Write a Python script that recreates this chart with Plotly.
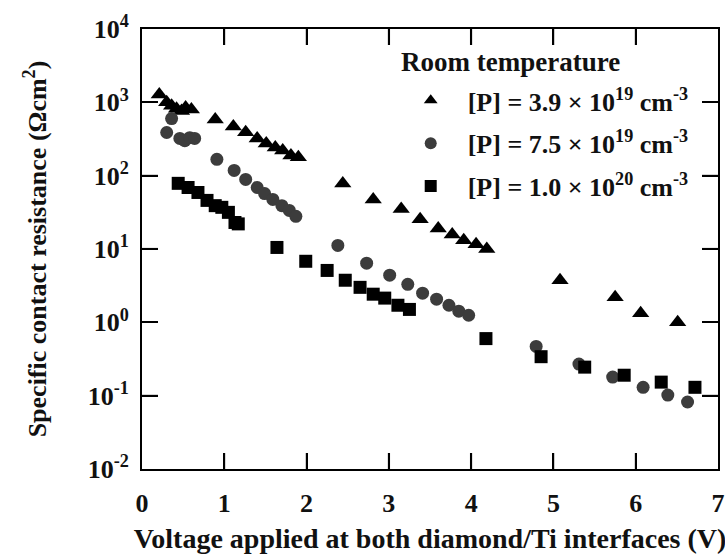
import plotly.graph_objects as go

# Specific contact resistance vs. voltage at the diamond/Ti interfaces (room temperature)
v_39e19 = [0.21, 0.30, 0.36, 0.42, 0.48, 0.53, 0.60, 0.89, 1.11, 1.26, 1.40, 1.51, 1.62, 1.71,
           1.81, 1.90, 2.44, 2.81, 3.15, 3.38, 3.60, 3.77, 3.91, 4.06, 4.19, 5.08, 5.75, 6.06, 6.51]
r_39e19 = [1280, 1000, 900, 820, 760, 850, 800, 585, 470, 390, 322, 275, 243, 221,
           189, 178, 78.5, 47.5, 35, 25.4, 19, 15.8, 13.2, 11.6, 10, 3.75, 2.2, 1.33, 1.0]

v_75e19 = [0.30, 0.36, 0.46, 0.52, 0.58, 0.64, 0.91, 1.12, 1.26, 1.40, 1.49, 1.59, 1.70, 1.79,
           1.87, 2.38, 2.73, 3.01, 3.23, 3.41, 3.58, 3.73, 3.85, 3.97, 4.79, 5.31, 5.72, 6.09,
           6.39, 6.63]
r_75e19 = [388, 600, 322, 300, 330, 322, 167, 118, 89, 69, 57, 47.5, 39, 33.6,
           27.9, 11.2, 6.4, 4.4, 3.3, 2.5, 2.07, 1.71, 1.42, 1.25, 0.47, 0.27, 0.179, 0.13,
           0.102, 0.082]

v_10e20 = [0.44, 0.56, 0.68, 0.79, 0.89, 0.97, 1.05, 1.13, 1.17, 1.64, 1.99, 2.25, 2.47, 2.65,
           2.81, 2.95, 3.11, 3.25, 4.18, 4.85, 5.38, 5.86, 6.31, 6.72]
r_10e20 = [78.6, 69, 59, 46, 39, 37, 31.6, 23, 22, 10.5, 6.8, 5.1, 3.75, 3.0,
           2.42, 2.14, 1.71, 1.5, 0.6, 0.34, 0.245, 0.19, 0.153, 0.13]

x_ticks = [0, 1, 2, 3, 4, 5, 6, 7]
y_exponents = [-2, -1, 0, 1, 2, 3, 4]

FONT = "Liberation Serif"
INK = "#111111"

WIDTH, HEIGHT = 725, 554
MARGIN = dict(l=142, r=7, t=29, b=85)
X_RANGE = [0, 7]
Y_RANGE = [-2, 4]          # log10 decades
TICK_PX = 16
TICK_HALF_W = 1.25

plot_w = WIDTH - MARGIN["l"] - MARGIN["r"]
plot_h = HEIGHT - MARGIN["t"] - MARGIN["b"]

fig = go.Figure()

series = [
    ("[P] = 3.9 × 10<sup>19</sup> cm<sup>-3</sup>", v_39e19, r_39e19, "triangle-up", 15, "#000000"),
    ("[P] = 7.5 × 10<sup>19</sup> cm<sup>-3</sup>", v_75e19, r_75e19, "circle", 13, "#3c3c3c"),
    ("[P] = 1.0 × 10<sup>20</sup> cm<sup>-3</sup>", v_10e20, r_10e20, "square", 13, "#000000"),
]
for i, (name, xs, ys, sym, size, color) in enumerate(series):
    fig.add_trace(go.Scatter(
        x=xs, y=ys, mode="markers", name=name, legendgroup=f"g{i}",
        marker=dict(symbol=sym, size=size, color=color, line=dict(width=0)),
    ))

# Inward tick marks on all four sides of the frame, as small filled bars at the tick values
tick_style = dict(type="rect", fillcolor="black", line=dict(width=0), layer="above")
for xv in x_ticks[1:-1]:
    for anchor, (p0, p1) in ((0, (0, TICK_PX)), (1, (-TICK_PX, 0))):
        fig.add_shape(xref="x", xsizemode="pixel", xanchor=xv,
                      x0=-TICK_HALF_W, x1=TICK_HALF_W,
                      yref="paper", ysizemode="pixel", yanchor=anchor, y0=p0, y1=p1,
                      **tick_style)
for e in y_exponents[1:-1]:
    for anchor, (p0, p1) in ((0, (0, TICK_PX)), (1, (-TICK_PX, 0))):
        fig.add_shape(xref="paper", xsizemode="pixel", xanchor=anchor, x0=p0, x1=p1,
                      yref="y", ysizemode="pixel", yanchor=10.0 ** e,
                      y0=-TICK_HALF_W, y1=TICK_HALF_W,
                      **tick_style)

axis_common = dict(
    showline=True, linewidth=2, linecolor="black", mirror="ticks",
    ticks="inside", ticklen=TICK_PX, tickwidth=2, tickcolor="black",
    showgrid=False, zeroline=False, automargin=False,
    tickfont=dict(family=FONT, size=26, color=INK, weight="bold"),
)

fig.update_xaxes(
    range=X_RANGE, tickmode="array", tickvals=x_ticks, ticktext=[str(t) for t in x_ticks],
    ticklabelstandoff=10,
    title=dict(text="Voltage applied at both diamond/Ti interfaces (V)",
               font=dict(family=FONT, size=28, color=INK, weight="bold"),
               standoff=14),
    **axis_common,
)
fig.update_yaxes(
    type="log", range=Y_RANGE, tickmode="array",
    tickvals=[10.0 ** e for e in y_exponents],
    ticktext=[f"10<sup>{e}</sup>" for e in y_exponents],
    ticklabelstandoff=6,
    title=dict(text="Specific contact resistance (Ωcm<sup>2</sup>)",
               font=dict(family=FONT, size=26, color=INK, weight="bold"),
               standoff=34),
    **axis_common,
)

fig.add_annotation(
    text="Room temperature", xref="paper", yref="paper",
    x=(399 - MARGIN["l"]) / plot_w, y=1 - (62 - MARGIN["t"]) / plot_h,
    xanchor="left", yanchor="middle",
    showarrow=False, font=dict(family=FONT, size=27, color=INK, weight="bold"),
)

fig.update_layout(
    template="simple_white",
    width=WIDTH, height=HEIGHT,
    margin=MARGIN,
    paper_bgcolor="white", plot_bgcolor="white",
    showlegend=True,
    legend=dict(
        x=0.437, y=0.891, xanchor="left", yanchor="top",
        bgcolor="rgba(0,0,0,0)", borderwidth=0,
        font=dict(family=FONT, size=26, color=INK, weight="bold"),
        tracegroupgap=6, itemsizing="constant", itemwidth=64,
    ),
)

fig.write_html("out.html")
